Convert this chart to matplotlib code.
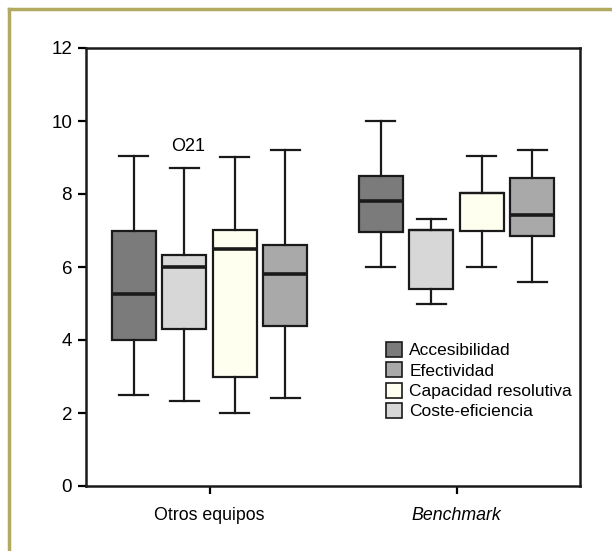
import matplotlib
matplotlib.use("Agg")
import matplotlib.pyplot as plt
from matplotlib.patches import Patch
from matplotlib.lines import Line2D

plt.rcParams["font.family"] = ["Liberation Sans", "DejaVu Sans"]

groups = ["Otros equipos", "Benchmark"]
# boxes drawn left to right inside each group
series = ["Accesibilidad", "Coste-eficiencia", "Capacidad resolutiva", "Efectividad"]
colors = {"Accesibilidad": "#7b7b7b", "Efectividad": "#a9a9a9",
          "Capacidad resolutiva": "#fffff0", "Coste-eficiencia": "#d7d7d7"}
legend_order = ["Accesibilidad", "Efectividad", "Capacidad resolutiva", "Coste-eficiencia"]

# (whislo, q1, med, q3, whishi) per group, per series
otros = {
    "Accesibilidad":        (2.5, 4.0, 5.25, 7.0, 9.05),
    "Coste-eficiencia":     (2.33, 4.3, 6.0, 6.33, 8.7),
    "Capacidad resolutiva": (2.0, 3.0, 6.5, 7.02, 9.02),
    "Efectividad":          (2.4, 4.38, 5.82, 6.6, 9.2),
}
bench = {
    "Accesibilidad":        (6.0, 6.95, 7.8, 8.48, 10.0),
    "Coste-eficiencia":     (5.0, 5.4, 7.02, 7.02, 7.32),
    "Capacidad resolutiva": (6.0, 7.0, 8.02, 8.02, 9.03),
    "Efectividad":          (5.6, 6.85, 7.43, 8.45, 9.2),
}
outlier_value = 9.3   # case 21, Coste-eficiencia, Otros equipos
outlier_label = "O21"

fig = plt.figure(figsize=(6.12, 5.51), dpi=100)
ax = fig.add_axes([86 / 612, 1 - 486 / 551, 494 / 612, 438 / 551])

offsets = [-0.3075, -0.1025, 0.1025, 0.3075]
for gi, data in enumerate([otros, bench]):
    for si, name in enumerate(series):
        lo, q1, med, q3, hi = data[name]
        st = [dict(whislo=lo, q1=q1, med=med, q3=q3, whishi=hi, fliers=[])]
        # median sitting on a box edge just merges with it
        med_lw = 1.6 if med in (q1, q3) else 2.6
        ax.bxp(st, positions=[gi + 1 + offsets[si]], widths=0.178, capwidths=0.117,
               patch_artist=True, showfliers=False,
               boxprops=dict(facecolor=colors[name], edgecolor="#1a1a1a", linewidth=1.6),
               medianprops=dict(color="#1a1a1a", linewidth=med_lw),
               whiskerprops=dict(color="#1a1a1a", linewidth=1.6),
               capprops=dict(color="#1a1a1a", linewidth=1.6))

ax.text(1 + offsets[1] + 0.016, outlier_value, outlier_label, ha="center", va="center",
        fontsize=13)

ax.set_xlim(0.5, 2.5)
ax.set_ylim(0, 12)
ax.set_yticks(range(0, 13, 2))
ax.set_xticks([1, 2])
ax.set_xticklabels(groups)
ax.get_xticklabels()[1].set_style("italic")
ax.tick_params(direction="out", length=6, width=1.6, labelsize=13.5, pad=4)
ax.tick_params(axis="x", labelsize=12.8, pad=9)
for sp in ax.spines.values():
    sp.set_linewidth(1.8)
    sp.set_color("#1a1a1a")

handles = [Patch(facecolor=colors[n], edgecolor="#1a1a1a", linewidth=1.2) for n in legend_order]
ax.legend(handles, legend_order, loc="upper left", bbox_to_anchor=(386 / 612, 1 - 342 / 551),
          bbox_transform=fig.transFigure, frameon=False, fontsize=12.5,
          handlelength=0.95, handleheight=0.95, handletextpad=0.4, labelspacing=0.22,
          borderpad=0, borderaxespad=0)

# olive frame (left and top edges only)
olive = "#b3aa62"
fig.add_artist(Line2D([8.5 / 612, 8.5 / 612], [0, 1 - 9 / 551], color=olive, lw=2.5,
                      transform=fig.transFigure))
fig.add_artist(Line2D([8.5 / 612, 1], [1 - 9 / 551, 1 - 9 / 551], color=olive, lw=2.5,
                      transform=fig.transFigure))

fig.savefig("out.png", dpi=100)
